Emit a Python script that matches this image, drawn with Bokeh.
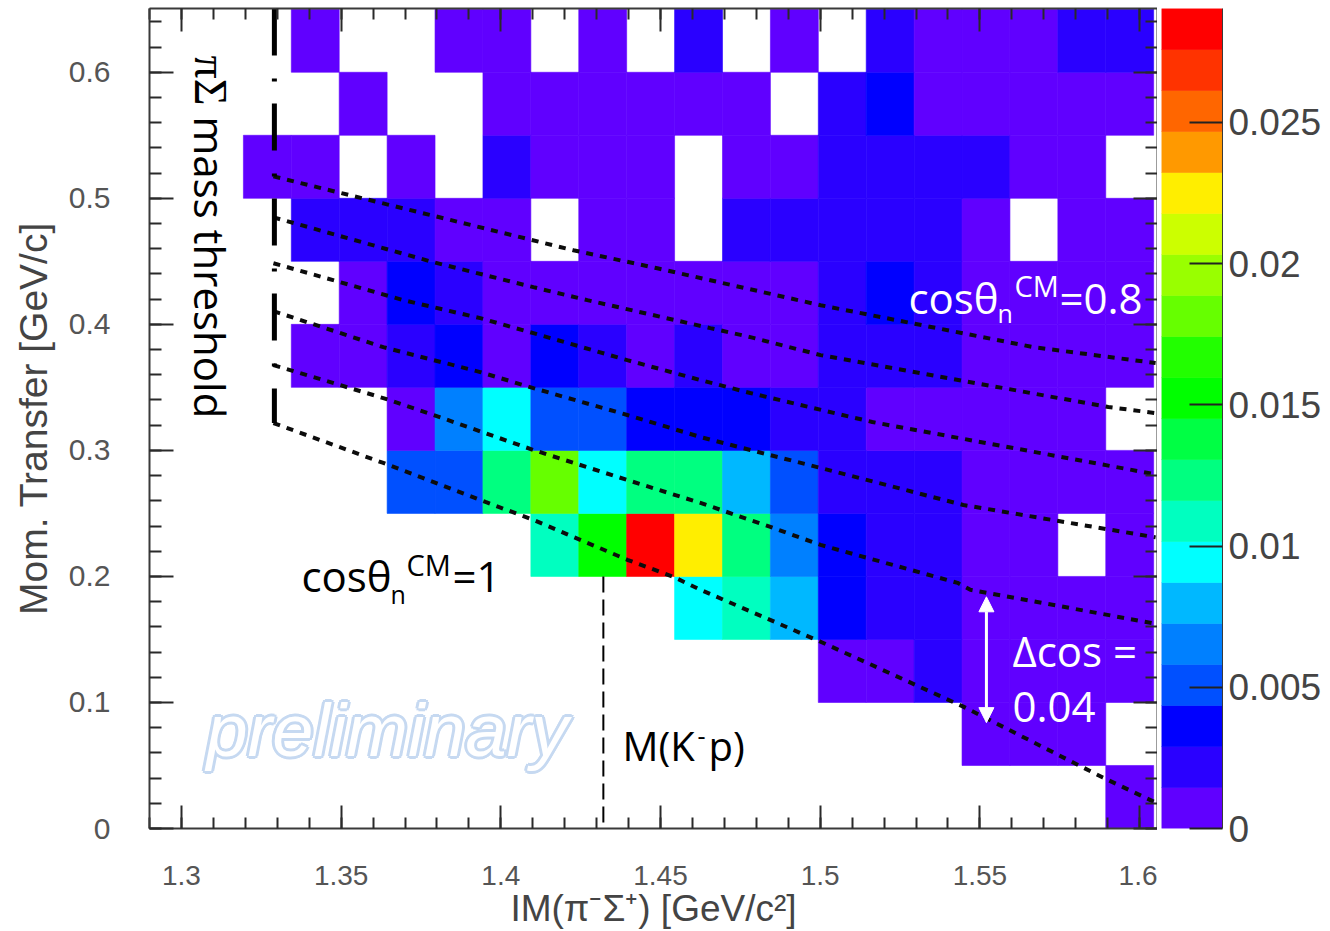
from bokeh.plotting import figure
from bokeh.embed import file_html
from bokeh.resources import INLINE
from bokeh.layouts import row
from bokeh.models import (ColumnDataSource, LinearColorMapper, LinearAxis, SingleIntervalTicker,
                          NumeralTickFormatter, Label, Arrow, NormalHead, FixedTicker)

# ---------- data ----------
x_bin_start = 1.2894
x_bin_width = 0.015
y_bin_width = 0.05
N = None
V = 0.0007; B1 = 0.0022; B2 = 0.0036; B3 = 0.0051; B4 = 0.0065; B5 = 0.0080; C6 = 0.0094
T7 = 0.0109; G8 = 0.0123; G10 = 0.0152; G12 = 0.0181; Y15 = 0.0225; R19 = 0.0283
row00 = [N,N,N,N,N,N,N,N,N,N,N,N,N,N,N,N,N,N,N,N,V]
row01 = [N,N,N,N,N,N,N,N,N,N,N,N,N,N,N,N,N,V,V,V,N]
row02 = [N,N,N,N,N,N,N,N,N,N,N,N,N,N,V,V,B1,V,V,V,V]
row03 = [N,N,N,N,N,N,N,N,N,N,N,C6,T7,B5,B2,B1,B1,V,V,V,V]
row04 = [N,N,N,N,N,N,N,N,T7,G10,R19,Y15,G8,B4,B2,B1,B1,V,V,N,V]
row05 = [N,N,N,N,N,B3,B3,G8,G12,C6,G8,G8,B5,B3,B1,B1,B1,V,V,V,V]
row06 = [N,N,N,N,N,V,B4,C6,B3,B3,B2,B2,B2,B1,B1,V,V,V,V,V,N]
row07 = [N,N,N,V,V,B1,B2,V,B2,B1,V,B1,V,V,B1,B1,B1,V,V,V,V]
row08 = [N,N,N,N,V,B2,B1,V,V,V,V,V,V,V,B1,B2,B1,V,V,V,V]
row09 = [N,N,N,B1,B1,B1,V,V,N,V,V,N,B1,B1,B1,B1,B1,V,N,V,V]
row10 = [N,N,V,V,N,V,N,B1,V,V,V,N,V,V,B1,B1,B1,B1,V,V,N]
row11 = [N,N,N,N,V,N,N,V,V,V,V,V,V,N,B1,B2,V,V,V,V,V]
row12 = [N,N,N,V,N,N,V,V,N,V,N,B1,N,V,N,B1,V,V,V,B1,B1]
rows = [row00,row01,row02,row03,row04,row05,row06,row07,row08,row09,row10,row11,row12]

palette = ["#6000ff","#2a00ff","#0000ff","#0050ff","#0080ff","#00b8ff","#00ffff","#00ffc0","#00ff80","#00ff44",
           "#00ff00","#22ff00","#66ff00","#99ff00","#ccff00","#ffee00","#ff9900","#ff6600","#ff3300","#ff0000"]
z_max = 0.02903

threshold_x = [1.3291, 1.3291]
threshold_y = [0.6506, 0.3217]
kp_x = [1.4321, 1.4321]
kp_y = [0.2, 0.0]

c1_x = [1.3288,1.4227,1.4490,1.5001,1.5668,1.6050]
c1_y = [0.5174,0.4588,0.4445,0.4152,0.3819,0.3693]
c2_x = [1.3288,1.3789,1.4102,1.4271,1.4656,1.4781,1.5001,1.5902,1.6050]
c2_y = [0.4849,0.4493,0.4295,0.4192,0.3970,0.3899,0.3756,0.3344,0.3296]
c3_x = [1.3288,1.3498,1.3695,1.3936,1.4102,1.4396,1.4625,1.4781,1.5163,1.6050]
c3_y = [0.4485,0.4334,0.4192,0.4049,0.3930,0.3716,0.3558,0.3455,0.3225,0.2810]
c4_x = [1.3288,1.3632,1.3936,1.4102,1.4396,1.4625,1.4781,1.5001,1.5448,1.6050]
c4_y = [0.4105,0.3819,0.3621,0.3494,0.3281,0.3106,0.3003,0.2861,0.2567,0.2310]
c5_x = [1.3288,1.3632,1.3789,1.4102,1.4396,1.4625,1.4844,1.5001,1.5430,1.5470,1.6050]
c5_y = [0.3677,0.3415,0.3281,0.3003,0.2765,0.2583,0.2393,0.2250,0.1949,0.1894,0.1625]
c6_x = [1.3288,1.3632,1.3952,1.4102,1.4396,1.4540,1.4625,1.5001,1.5448,1.5885,1.6050]
c6_y = [0.3217,0.2900,0.2591,0.2448,0.2132,0.1997,0.1894,0.1482,0.0967,0.0404,0.0206]
curves = [(c1_x,c1_y),(c2_x,c2_y),(c3_x,c3_y),(c4_x,c4_y),(c5_x,c5_y),(c6_x,c6_y)]

cb_ticks = [0, 0.005, 0.01, 0.015, 0.02, 0.025]

# ---------- geometry ----------
X0, X1 = 1.29, 1.6056
Y0, Y1 = 0.0, 0.6506
HEIGHT = 931
B = 100
T = 8

def X(px):
    return 1.3 + (px - 181) / 3194.0
def Y(py):
    return (829 - py) / 1262.0

p = figure(width=1157, height=HEIGHT, x_range=(X0, X1), y_range=(Y0, Y1), output_backend="svg",
           toolbar_location=None, min_border_left=149, min_border_right=0, min_border_top=T,
           min_border_bottom=B, x_axis_location=None, y_axis_location=None, background_fill_color="white")
p.grid.visible = False
p.outline_line_color = None

# bins
left, right, bottom, top, val = [], [], [], [], []
for j, r in enumerate(rows):
    for i, v in enumerate(r):
        if v is None:
            continue
        left.append(x_bin_start + i * x_bin_width)
        right.append(x_bin_start + (i + 1) * x_bin_width)
        bottom.append(j * y_bin_width)
        top.append((j + 1) * y_bin_width)
        val.append(v)
mapper = LinearColorMapper(palette=palette, low=0, high=z_max)
src = ColumnDataSource(dict(left=left, right=right, bottom=bottom, top=top, val=val))
p.quad(left="left", right="right", bottom="bottom", top="top", source=src,
       fill_color={"field": "val", "transform": mapper},
       line_color={"field": "val", "transform": mapper}, line_width=0.6)

# axes
def style(ax, major, minor, labels):
    ax.axis_line_color = "#3a3a3a"
    ax.axis_line_width = 2
    ax.major_tick_in = major
    ax.major_tick_out = 0
    ax.minor_tick_in = minor
    ax.minor_tick_out = 0
    ax.major_tick_line_color = "#2a2a2a"
    ax.minor_tick_line_color = "#2a2a2a"
    ax.major_tick_line_width = 2
    ax.minor_tick_line_width = 2
    ax.major_label_text_font = "Liberation Sans"
    ax.major_label_text_color = "#555555"
    if not labels:
        ax.major_label_text_color = None
        ax.major_label_text_font_size = "1px"
        ax.major_label_standoff = 0

def xax():
    return LinearAxis(ticker=SingleIntervalTicker(interval=0.05, num_minor_ticks=5))
def yax():
    return LinearAxis(ticker=SingleIntervalTicker(interval=0.1, num_minor_ticks=5))

FT = "#444444"
bx = xax(); style(bx, 23, 11, True)
bx.major_label_text_font_size = "28px"; bx.major_label_standoff = 37
bx.formatter = NumeralTickFormatter(format="0.[00]")
bx.axis_label = "IM(π⁻Σ⁺) [GeV/c²]"
bx.axis_label_text_font = "Liberation Sans"; bx.axis_label_text_font_size = "37px"
bx.axis_label_text_font_style = "normal"; bx.axis_label_text_color = FT; bx.axis_label_standoff = 0
p.add_layout(bx, "below")
ly = yax(); style(ly, 24, 12, True)
ly.major_label_text_font_size = "30px"; ly.major_label_standoff = 39
ly.formatter = NumeralTickFormatter(format="0.[0]")
ly.axis_label = "Mom. Transfer [GeV/c]"
ly.axis_label_text_font = "Liberation Sans"; ly.axis_label_text_font_size = "39px"
ly.axis_label_text_font_style = "normal"; ly.axis_label_text_color = FT; ly.axis_label_standoff = 11
p.add_layout(ly, "left")
tx = xax(); style(tx, 23, 11, False); p.add_layout(tx, "above")
ry = yax(); style(ry, 24, 12, False); p.add_layout(ry, "right")

# curves
for cx, cy in curves:
    p.line(cx, cy, line_color="#0c0c0c", line_width=4, line_dash="7 7")
p.line(threshold_x, threshold_y, line_color="black", line_width=5, line_dash="47 23 3 22")
p.line(kp_x, kp_y, line_color="black", line_width=2, line_dash="16 7")

def lab(px, py, text, size, color="black", font="Open Sans", **kw):
    baseline = kw.pop("baseline", "alphabetic")
    yy = py - 0.35 * size if baseline == "alphabetic" else py
    p.add_layout(Label(x=X(px), y=Y(yy), text=text, text_font=font, text_font_size=f"{size}px",
                       text_color=color, text_baseline=baseline, **kw))

# preliminary (outlined)
for dx, dy in [(-3, 0), (3, 0), (0, -3), (0, 3), (-2, -2), (2, -2), (-2, 2), (2, 2)]:
    lab(206, 757, "preliminary", 74, "#c6d9f1", "Liberation Sans", text_font_style="italic", x_offset=dx, y_offset=dy)
lab(206, 757, "preliminary", 74, "white", "Liberation Sans", text_font_style="italic")

# annotations
lab(301, 590, "cosθ", 42)
lab(390, 603, "n", 25)
lab(406, 575, "CM", 29)
lab(452, 590, "=1", 42)
lab(908, 312, "cosθ", 42, "white")
lab(997, 322, "n", 25, "white")
lab(1014, 295, "CM", 29, "white")
lab(1059, 312, "=0.8", 42, "white")
lab(622, 760, "M(K", 40)
lab(697, 745, "-", 25)
lab(708, 760, "p)", 40)
lab(1012, 665, "Δcos =", 42, "white")
lab(1012, 722, "0.04", 42, "white")
lab(210, 55, "πΣ", 46, "black", "Liberation Serif", angle=-90, angle_units="deg", baseline="middle")
lab(210, 116, "mass threshold", 42, "black", angle=-90, angle_units="deg", baseline="middle")

# arrow
head = dict(size=15, fill_color="white", line_color="white")
p.add_layout(Arrow(start=NormalHead(**head), end=NormalHead(**head), x_start=X(986), y_start=Y(597),
                   x_end=X(986), y_end=Y(723), line_color="white", line_width=3))

# colour bar
cb = figure(width=173, height=HEIGHT, x_range=(0, 1), y_range=(0, z_max), output_backend="svg",
            toolbar_location=None, min_border_left=4, min_border_right=108, min_border_top=T,
            min_border_bottom=B, x_axis_location=None, y_axis_location=None)
cb.grid.visible = False
cb.outline_line_color = None
n = len(palette)
cb.quad(left=[0] * n, right=[1] * n, bottom=[z_max * k / n for k in range(n)],
        top=[z_max * (k + 1) / n for k in range(n)], fill_color=palette, line_color=palette, line_width=0.6)
ax = LinearAxis(ticker=FixedTicker(ticks=cb_ticks), formatter=NumeralTickFormatter(format="0.[000]"))
ax.axis_line_color = "#3a3a3a"; ax.axis_line_width = 1
ax.major_tick_in = 33; ax.major_tick_out = 0
ax.major_tick_line_color = "#222222"; ax.major_tick_line_width = 2
ax.minor_tick_line_color = None
ax.major_label_text_font = "Liberation Sans"; ax.major_label_text_font_size = "37px"
ax.major_label_text_color = "#444444"; ax.major_label_standoff = 6
cb.add_layout(ax, "right")

layout = row(p, cb, spacing=0)
open("out.html", "w").write(file_html(layout, INLINE))
